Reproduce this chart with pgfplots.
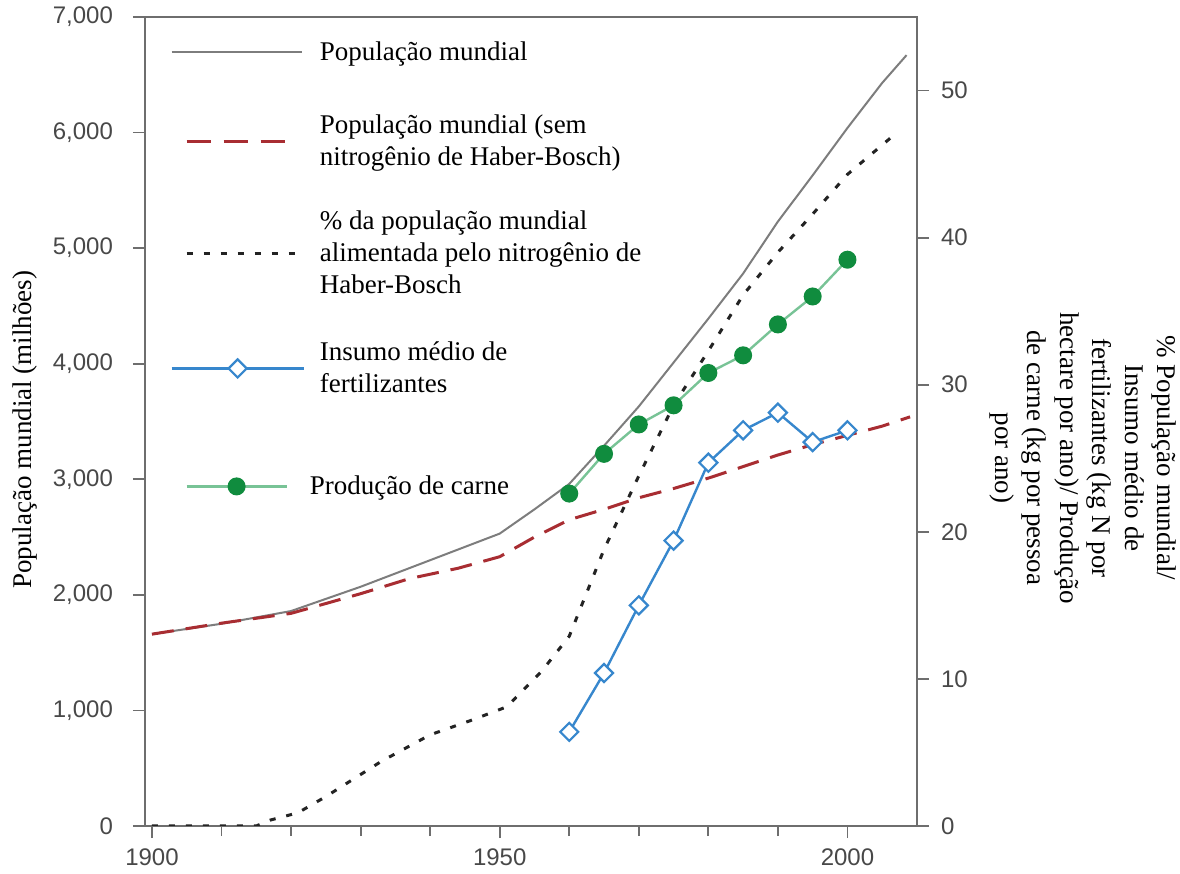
\documentclass[border=0pt]{standalone}
\usepackage{fontspec}
\setmainfont{Liberation Serif}
\setsansfont{Liberation Sans}
\usepackage{pgfplots}
\pgfplotsset{compat=1.18}

\definecolor{axisgray}{RGB}{110,110,110}
\definecolor{ticktext}{RGB}{72,72,72}
\definecolor{popgray}{RGB}{125,125,125}
\definecolor{popred}{RGB}{168,45,50}
\definecolor{dotblack}{RGB}{35,35,35}
\definecolor{fertblue}{RGB}{55,135,205}
\definecolor{meatgreen}{RGB}{16,140,62}
\definecolor{meatline}{RGB}{120,195,150}

\pgfplotsset{
  common/.style={
    at={(0,0)}, anchor=south west,
    scale only axis, width=386pt, height=404.5pt,
    xmin=1899, xmax=2010,
    axis line style={axisgray, line width=0.9pt},
    tick align=outside,
    major tick length=6pt, minor tick length=5pt,
    tick style={axisgray, line width=0.9pt},
    tick label style={font=\sffamily\fontsize{12}{14}\selectfont, text=ticktext,
      /pgf/number format/assume math mode=true},
  },
  % legend samples of different lengths
  legGrey/.style={legend image code/.code={\draw[##1] (0pt,0pt) -- (65pt,0pt);}},
  legRed/.style={legend image code/.code={\draw[##1] (7.5pt,0pt) -- (56.5pt,0pt);}},
  legDot/.style={legend image code/.code={\draw[##1] (7.5pt,0pt) -- (62pt,0pt);}},
  legBlue/.style={legend image code/.code={\draw[mark repeat=2, mark phase=2, ##1]
    plot coordinates {(0pt,0pt) (33pt,0pt) (66pt,0pt)};}},
  legGreen/.style={legend image code/.code={\draw[mark repeat=2, mark phase=2, ##1]
    plot coordinates {(7.5pt,0pt) (32.5pt,0pt) (57.5pt,0pt)};}},
}

\begin{document}
\begin{tikzpicture}
% left axis: world population (millions)
\begin{axis}[common,
  ymin=0, ymax=7000,
  tick pos=left,
  xtick={1900,1950,2000},
  minor xtick={1910,1920,1930,1940,1960,1970,1980,1990},
  ytick={0,1000,...,7000},
  yticklabel style={/pgf/number format/1000 sep={,}, xshift=-6.5pt},
  xticklabel style={/pgf/number format/1000 sep={}, yshift=-2pt},
  ylabel={População mundial (milhões)},
  ylabel style={at={(axis description cs:-0.155,0.49)}, anchor=center,
    font=\fontsize{13.5}{16}\selectfont},
]
\addplot[popgray, line width=1pt] coordinates {
  (1900,1660) (1910,1750) (1920,1860) (1930,2070) (1940,2300) (1950,2530)
  (1955,2740) (1960,2960) (1965,3290) (1970,3630) (1975,4010) (1980,4390)
  (1985,4780) (1990,5230) (1995,5630) (2000,6040) (2005,6430) (2008.5,6670)
};
\addplot[popred, line width=1.5pt, dash pattern=on 11pt off 6pt] coordinates {
  (1900,1660) (1910,1755) (1920,1840) (1925,1925) (1930,2010) (1937,2140)
  (1944,2230) (1950,2330) (1955,2500) (1960,2650) (1965,2740) (1970,2840)
  (1975,2920) (1980,3010) (1985,3110) (1990,3210) (1995,3300) (2000,3380)
  (2005,3460) (2009,3540)
};
\end{axis}

% right axis: percentages, fertilizer input and meat production
\begin{axis}[common,
  ymin=0, ymax=55,
  axis x line=none, axis y line*=right,
  ytick={0,10,...,50},
  yticklabel style={xshift=2.5pt},
  every axis y label/.style={at={(axis description cs:1.0933,0.455)},
    anchor=south, rotate=-90, align=center, inner sep=0pt,
    font=\fontsize{13.5}{16.25}\selectfont},
  ylabel={\% População mundial/\\Insumo médio de\\fertilizantes (kg N por\\hectare por ano)/ Produção\\de carne (kg por pessoa\\por ano)},
  legend style={at={(axis description cs:0,1)}, anchor=north west,
    draw=none, fill=none, inner xsep=12.5pt, inner ysep=0pt,
    row sep=0pt, column sep=7.5pt,
    font=\fontsize{13.5}{16}\selectfont,
    nodes={inner sep=0pt, align=left}},
  legend cell align=left,
]
\addlegendimage{popgray, line width=1pt, legGrey}
\addlegendentry[minimum height=35pt]{População mundial}
\addlegendimage{popred, line width=1.5pt, dash pattern=on 12pt off 6.5pt, legRed}
\addlegendentry[minimum height=54pt]{População mundial (sem\\nitrogênio de Haber-Bosch)}

\addplot[dotblack, line width=1.5pt, dash pattern=on 3pt off 5.5pt, legDot] coordinates {
  (1900,0) (1915,0) (1917,0.4) (1921,0.9) (1925,2.0) (1933,4.4) (1940,6.2)
  (1946,7.2) (1951,8.1) (1956,10.5) (1960,12.9) (1965,18.8) (1970,23.8)
  (1975,28.6) (1980,32.3) (1985,36.1) (1990,39.0) (1995,41.6) (2000,44.3)
  (2006.5,46.9)
};
\addlegendentry[minimum height=58pt]{\% da população mundial\\alimentada pelo nitrogênio de\\Haber-Bosch}

\addplot[fertblue, line width=1.2pt, mark=square*, mark size=3.2pt,
  mark options={rotate=45, fill=white, draw=fertblue, line width=1.1pt, solid},
  legBlue] coordinates {
  (1960,6.4) (1965,10.4) (1970,15.0) (1975,19.4) (1980,24.7)
  (1985,26.9) (1990,28.1) (1995,26.1) (2000,26.9)
};
\addlegendentry[minimum height=57pt]{Insumo médio de\\fertilizantes}

\addplot[meatline, line width=1.2pt, mark=*, mark size=3.9pt,
  mark options={fill=meatgreen, draw=meatgreen, solid},
  legGreen] coordinates {
  (1960,22.6) (1965,25.3) (1970,27.3) (1975,28.6) (1980,30.8)
  (1985,32.0) (1990,34.1) (1995,36.0) (2000,38.5)
};
\addlegendentry[minimum height=61pt]{\hspace*{-5pt}Produção de carne}
\end{axis}

\pgfresetboundingbox
\path (-72.5pt,-24pt) rectangle (517.5pt,413pt);
\end{tikzpicture}
\end{document}
